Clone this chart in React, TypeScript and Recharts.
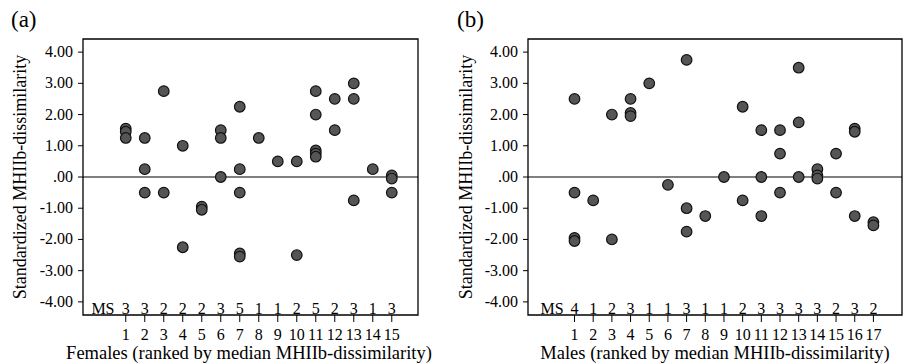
import { ReferenceArea, ReferenceLine, Scatter, ScatterChart, XAxis, YAxis } from "recharts"

const FONT = "'Liberation Serif', 'DejaVu Serif', serif"

// standardized MHIIb-dissimilarity per individual (index = rank - 1)
const femaleValues = [
  [1.55, 1.45, 1.25],
  [1.25, 0.25, -0.5],
  [2.75, -0.5],
  [1.0, -2.25],
  [-0.95, -1.05],
  [1.5, 1.25, 0.0],
  [2.25, 0.25, -0.5, -2.45, -2.55],
  [1.25],
  [0.5],
  [0.5, -2.5],
  [2.75, 2.0, 0.85, 0.75, 0.65],
  [2.5, 1.5],
  [3.0, 2.5, -0.75],
  [0.25],
  [0.05, -0.05, -0.5],
]
const femaleMS = [3, 3, 2, 2, 2, 3, 5, 1, 1, 2, 5, 2, 3, 1, 3]

const maleValues = [
  [2.5, -0.5, -1.95, -2.05],
  [-0.75],
  [2.0, -2.0],
  [2.5, 2.05, 1.95],
  [3.0],
  [-0.25],
  [3.75, -1.0, -1.75],
  [-1.25],
  [0.0],
  [2.25, -0.75],
  [1.5, 0.0, -1.25],
  [1.5, 0.75, -0.5],
  [3.5, 1.75, 0.0],
  [0.25, 0.05, -0.05],
  [0.75, -0.5],
  [1.55, 1.45, -1.25],
  [-1.45, -1.55],
]
const maleMS = [4, 1, 2, 3, 1, 1, 3, 1, 1, 2, 3, 3, 3, 3, 2, 3, 2]

const yTicks = [4, 3, 2, 1, 0, -1, -2, -3, -4]
const fmtY = (v: number) => (v === 0 ? ".00" : v.toFixed(2))

const Dot = (props: any) => (
  <circle cx={props.cx} cy={props.cy} r={5.3} fill="#555" stroke="#111" strokeWidth={1.2} />
)

const MsText = (props: any) => (
  <text x={props.cx} y={props.cy} textAnchor="middle" dominantBaseline="central" fontSize={16} fontFamily={FONT} fill="#000">
    {props.payload.label}
  </text>
)

const XTick = (props: any) => (
  <text x={props.x} y={props.y + 12} textAnchor="middle" fontSize={16} fontFamily={FONT} fill="#000">
    {props.payload.value}
  </text>
)

const YTick = (props: any) => (
  <text x={props.x} y={props.y + 5} textAnchor="end" fontSize={16} fontFamily={FONT} fill="#000">
    {fmtY(props.payload.value)}
  </text>
)

type PanelProps = {
  values: number[][]
  ms: number[]
  width: number
  marginLeft: number
  marginRight: number
  xDomain: [number, number]
}

function Panel({ values, ms, width, marginLeft, marginRight, xDomain }: PanelProps) {
  const points = values.flatMap((vals, i) => vals.map((v) => ({ x: i + 1, y: v })))
  const msRow = [{ x: -0.2, y: -4.22, label: "MS" }, ...ms.map((c, i) => ({ x: i + 1, y: -4.22, label: String(c) }))]
  const xTicks = values.map((_, i) => i + 1)
  const yDomain: [number, number] = [-4.42, 4.42]
  return (
    <ScatterChart width={width} height={364} margin={{ top: 39, right: marginRight, bottom: 19, left: marginLeft }}>
      <XAxis
        type="number"
        dataKey="x"
        domain={xDomain}
        ticks={xTicks}
        interval={0}
        allowDataOverflow
        axisLine={false}
        tickLine={{ stroke: "#000" }}
        tickSize={7}
        tickMargin={6}
        height={30}
        tick={<XTick />}
      />
      <YAxis
        type="number"
        dataKey="y"
        domain={yDomain}
        ticks={yTicks}
        interval={0}
        allowDataOverflow
        axisLine={false}
        tickLine={{ stroke: "#000" }}
        tickSize={5}
        tickMargin={5}
        width={60}
        tick={<YTick />}
      />
      <ReferenceArea
        x1={xDomain[0]}
        x2={xDomain[1]}
        y1={yDomain[0]}
        y2={yDomain[1]}
        fill="none"
        stroke="#000"
        strokeWidth={1.3}
        ifOverflow="visible"
      />
      <ReferenceLine y={0} stroke="#000" strokeWidth={1.2} />
      <Scatter data={points} shape={Dot} isAnimationActive={false} />
      <Scatter data={msRow} shape={MsText} isAnimationActive={false} />
    </ScatterChart>
  )
}

export default function App() {
  return (
    <div style={{ position: "absolute", left: 0, top: 0, width: 905, height: 364, background: "#fff", overflow: "hidden", fontFamily: FONT }}>
      <div style={{ position: "absolute", left: 0, top: 0 }}>
        <Panel values={femaleValues} ms={femaleMS} width={450} marginLeft={23} marginRight={32} xDomain={[-1.25, 16.38]} />
      </div>
      <div style={{ position: "absolute", left: 450, top: 0 }}>
        <Panel values={maleValues} ms={maleMS} width={455} marginLeft={18} marginRight={3} xDomain={[-1.49, 18.53]} />
      </div>
      <svg width={905} height={364} style={{ position: "absolute", left: 0, top: 0, pointerEvents: "none" }} fontFamily={FONT} fill="#000">
        <text x={11} y={27} fontSize={23}>(a)</text>
        <text x={457} y={27} fontSize={23}>(b)</text>
        <text x={0} y={0} fontSize={18} textAnchor="middle" transform="translate(26,177) rotate(-90)">
          Standardized MHIIb-dissimilarity
        </text>
        <text x={0} y={0} fontSize={18} textAnchor="middle" transform="translate(472,177) rotate(-90)">
          Standardized MHIIb-dissimilarity
        </text>
        <text x={249} y={359} fontSize={18.5} textAnchor="middle">Females (ranked by median MHIIb-dissimilarity)</text>
        <text x={715} y={359} fontSize={18.5} textAnchor="middle">Males (ranked by median MHIIb-dissimilarity)</text>
      </svg>
    </div>
  )
}
